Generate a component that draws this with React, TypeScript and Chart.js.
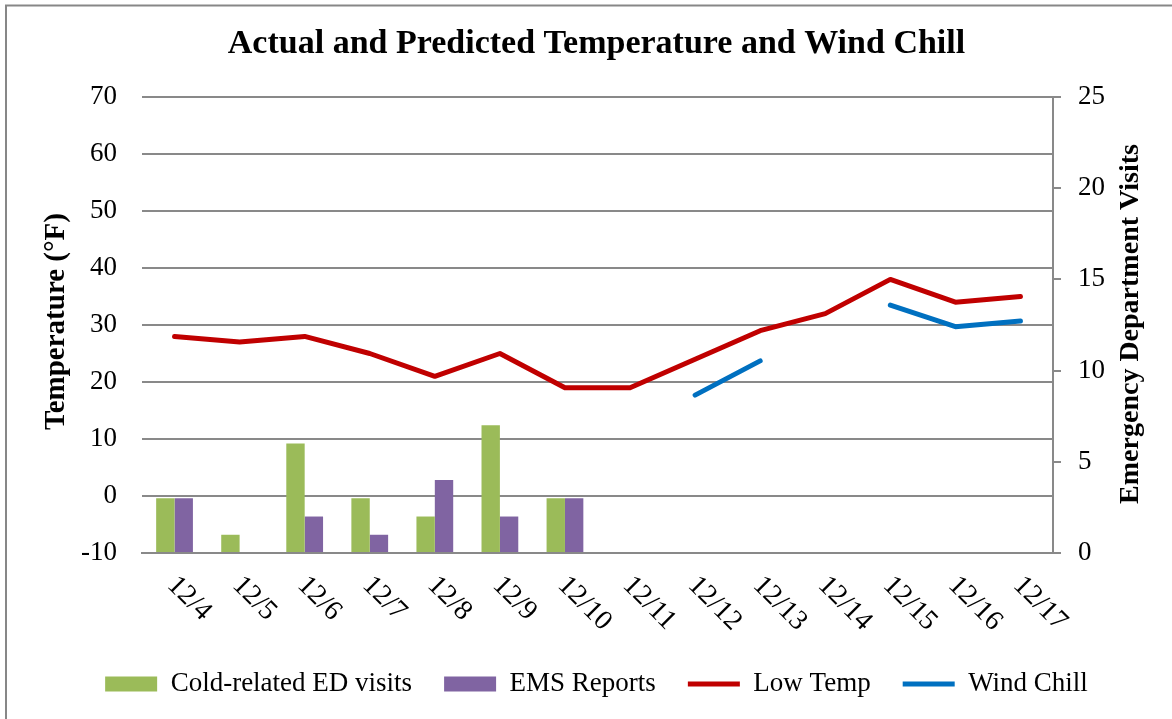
import React, { useEffect, useRef } from "react";
import { Chart, registerables } from "chart.js";

Chart.register(...registerables);

// ---- data ----
const categories = ["12/4", "12/5", "12/6", "12/7", "12/8", "12/9", "12/10", "12/11", "12/12", "12/13", "12/14", "12/15", "12/16", "12/17"];
const coldRelatedEDVisits = [3, 1, 6, 3, 2, 7, 3, null, null, null, null, null, null, null];
const emsReports = [3, 0, 2, 1, 4, 2, 3, null, null, null, null, null, null, null];
const lowTemp = [28, 27, 28, 25, 21, 25, 19, 19, 24, 29, 32, 38, 34, 35];
const windChill = [null, null, null, null, null, null, null, null, 17.7, 23.7, null, 33.5, 29.7, 30.7];

const seriesNames = ["Cold-related ED visits", "EMS Reports", "Low Temp", "Wind Chill"];
const titleText = "Actual and Predicted Temperature and Wind Chill";
const leftAxisTitle = "Temperature (°F)";
const rightAxisTitle = "Emergency Department Visits";
const tempAxis = { min: -10, max: 70, step: 10 };
const visitAxis = { min: 0, max: 25, step: 5 };

const FONT = "'Liberation Serif', 'Times New Roman', serif";
const GRID = "#898989";

const customText = {
  id: "customText",
  beforeDraw(chart: any) {
    const ctx = chart.ctx;
    ctx.save();
    ctx.strokeStyle = "#878787";
    ctx.lineWidth = 2;
    ctx.strokeRect(6, 5.5, 1400, 1000);
    ctx.restore();
  },
  afterDraw(chart: any) {
    const ctx = chart.ctx;
    const xs = chart.scales.x;
    const area = chart.chartArea;
    ctx.save();
    ctx.fillStyle = "#000";
    ctx.font = `28px ${FONT}`;
    ctx.textAlign = "left";
    ctx.textBaseline = "middle";
    (chart.data.labels as string[]).forEach((lab, i) => {
      const px = xs.getPixelForTick(i);
      ctx.save();
      ctx.translate(px - 3, area.bottom + 28);
      ctx.rotate(Math.PI / 4);
      ctx.fillText(lab, 0, 0);
      ctx.restore();
    });
    ctx.textAlign = "center";
    ctx.font = `bold 29px ${FONT}`;
    ctx.save();
    ctx.translate(56.5, 321.5);
    ctx.rotate(-Math.PI / 2);
    ctx.fillText(leftAxisTitle, 0, 0);
    ctx.restore();
    ctx.font = `bold 28px ${FONT}`;
    ctx.save();
    ctx.translate(1130.5, 324);
    ctx.rotate(-Math.PI / 2);
    ctx.fillText(rightAxisTitle, 0, 0);
    ctx.restore();
    ctx.restore();
  },
};

export default function App() {
  const ref = useRef<HTMLCanvasElement | null>(null);
  useEffect(() => {
    if (!ref.current) return;
    const chart = new Chart(ref.current, {
      type: "bar",
      data: {
        labels: categories,
        datasets: [
          {
            type: "bar",
            label: seriesNames[0],
            data: coldRelatedEDVisits,
            backgroundColor: "#9BBB59",
            borderWidth: 0,
            yAxisID: "y1",
            categoryPercentage: 0.565,
            barPercentage: 1,
            pointStyle: "rect",
          },
          {
            type: "bar",
            label: seriesNames[1],
            data: emsReports,
            backgroundColor: "#8064A2",
            borderWidth: 0,
            yAxisID: "y1",
            categoryPercentage: 0.565,
            barPercentage: 1,
            pointStyle: "rect",
          },
          {
            type: "line",
            label: seriesNames[2],
            data: lowTemp,
            borderColor: "#C00000",
            backgroundColor: "#C00000",
            borderWidth: 5,
            borderCapStyle: "round",
            borderJoinStyle: "round",
            pointRadius: 0,
            pointHoverRadius: 0,
            tension: 0,
            yAxisID: "y",
            pointStyle: "line",
          },
          {
            type: "line",
            label: seriesNames[3],
            data: windChill,
            borderColor: "#0070C0",
            backgroundColor: "#0070C0",
            borderWidth: 5,
            borderCapStyle: "round",
            borderJoinStyle: "round",
            pointRadius: 0,
            pointHoverRadius: 0,
            tension: 0,
            spanGaps: false,
            yAxisID: "y",
            pointStyle: "line",
          },
        ] as any,
      },
      options: {
        responsive: false,
        animation: false,
        devicePixelRatio: 1,
        layout: { padding: { left: 21, right: 0, top: 0, bottom: 11.5 } },
        font: { family: FONT },
        plugins: {
          title: {
            display: true,
            text: titleText,
            color: "#000",
            font: { family: FONT, size: 34, weight: "bold" },
            padding: { top: 23.5, bottom: 32.7 },
          },
          legend: {
            position: "bottom",
            labels: {
              color: "#000",
              font: { family: FONT, size: 27 },
              usePointStyle: true,
              pointStyleWidth: 52,
              boxHeight: 15,
              padding: 32,
            },
          },
          tooltip: { enabled: false },
        },
        scales: {
          x: {
            type: "category",
            offset: true,
            grid: { display: false },
            border: { display: true, color: GRID, width: 2 },
            ticks: { display: false },
            afterFit: (s: any) => {
              s.height = 85.5;
            },
          },
          y: {
            position: "left",
            min: tempAxis.min,
            max: tempAxis.max,
            ticks: { stepSize: tempAxis.step, color: "#000", font: { family: FONT, size: 27 }, padding: 25 },
            grid: { color: GRID, lineWidth: 2, drawTicks: false },
            border: { display: false },
            afterFit: (s: any) => {
              s.width = 121;
            },
          },
          y1: {
            position: "right",
            min: visitAxis.min,
            max: visitAxis.max,
            ticks: { stepSize: visitAxis.step, color: "#000", font: { family: FONT, size: 27 }, padding: 17 },
            grid: { drawOnChartArea: false, drawTicks: true, tickLength: 8, color: GRID, lineWidth: 2 },
            border: { display: true, color: GRID, width: 2 },
            afterFit: (s: any) => {
              s.width = 119;
            },
          },
        },
      } as any,
      plugins: [customText],
    });
    return () => chart.destroy();
  }, []);
  return (
    <div style={{ position: "fixed", left: 0, top: 0, width: 1172, height: 719, background: "#fff" }}>
      <canvas ref={ref} width={1172} height={719} style={{ display: "block" }} />
    </div>
  );
}
